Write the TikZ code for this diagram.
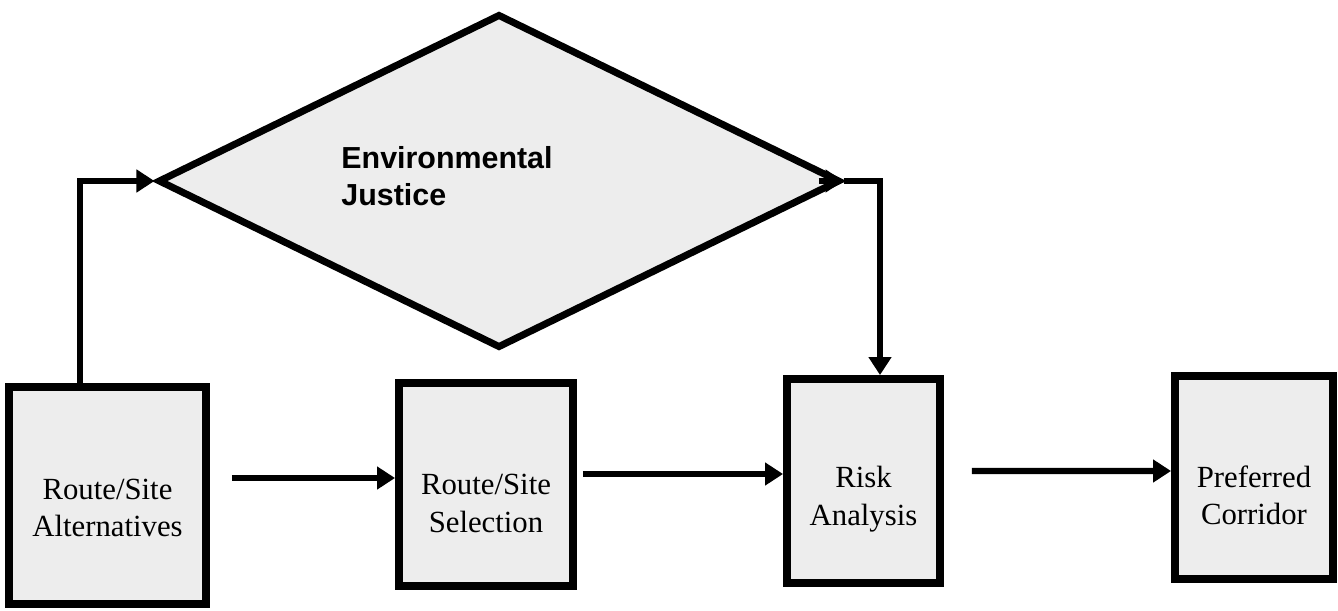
\documentclass[tikz,border=0pt]{standalone}
\usepackage{fontspec}
\setmainfont{Liberation Serif}
\newfontfamily\ejfont{Liberation Sans}
\usetikzlibrary{arrows.meta, positioning, shapes.geometric}

\begin{document}
\begin{tikzpicture}[
    stagebox/.style={rectangle, draw, line width=4.5pt, fill=black!7, minimum height=4.06cm, inner sep=0pt},
    stagetext/.style={font=\fontsize{17.5}{21.3}\selectfont, align=center},
    decision/.style={diamond, draw, line width=4pt, fill=black!7, minimum width=13.64cm, minimum height=6.68cm, inner sep=0pt},
    ejtext/.style={font=\ejfont\bfseries\fontsize{17.3}{21}\selectfont, align=left},
    arrow/.style={-{Triangle[length=0.36cm, width=0.44cm]}, line width=3.5pt}
]
\useasboundingbox (0,0) rectangle (26.76,12.2);

% ============ STAGES ============
\node[stagebox, minimum width=3.94cm, minimum height=4.34cm] (alt) at (2.15, 2.29) {};
\node[stagebox, minimum width=3.48cm] (sel) at (9.72, 2.51) {};
\node[stagebox, minimum width=3.06cm, minimum height=4.08cm] (risk) at (17.27, 2.58) {};
\node[stagebox, minimum width=3.16cm] (pref) at (25.08, 2.65) {};

\node[stagetext] (alt-label) at ([yshift=-0.25cm]alt.center) {Route/Site\\Alternatives};
\node[stagetext] (sel-label) at ([yshift=-0.38cm]sel.center) {Route/Site\\Selection};
\node[stagetext] (risk-label) at ([yshift=-0.36cm]risk.center) {Risk\\Analysis};
\node[stagetext] (pref-label) at ([yshift=-0.36cm]pref.center) {Preferred\\Corridor};

% ============ DECISION ============
\node[decision] (ej) at (9.98, 8.58) {};
\node[ejtext] (ej-label) at ([xshift=-1.04cm, yshift=0.09cm]ej.center) {Environmental\\Justice};

% ============ ARROWS ============
% Alternatives up and into the diamond
\draw[arrow] ([xshift=-0.55cm]alt.north) |- (ej.west);

% Diamond down to risk analysis
\draw[arrow] ([xshift=-0.5cm]ej.east) -- (ej.east);
\draw[arrow] (ej.east) -| ([xshift=0.33cm]risk.north);

% Main chain
\draw[arrow] ([xshift=0.44cm, yshift=0.35cm]alt.east) -- ([yshift=0.13cm]sel.west);
\draw[arrow] ([xshift=0.12cm, yshift=0.21cm]sel.east) -- ([yshift=0.14cm]risk.west);
\draw[arrow] ([xshift=0.56cm, yshift=0.2cm]risk.east) -- ([yshift=0.13cm]pref.west);

\end{tikzpicture}
\end{document}
